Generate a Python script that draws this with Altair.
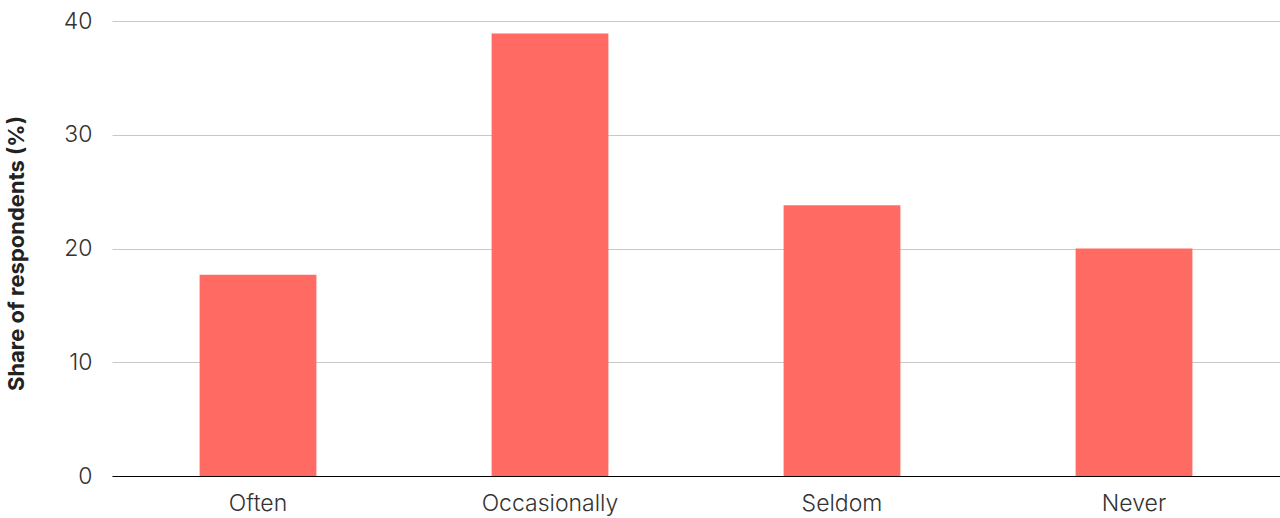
import altair as alt
import pandas as pd

# Survey answers and the share of respondents giving each one
categories = ["Often", "Occasionally", "Seldom", "Never"]
shares = [17.7, 38.9, 23.8, 20.0]
y_ticks = [0, 10, 20, 30, 40]

df = pd.DataFrame({"answer": categories, "share": shares})

FONT = "Inter"

bars = (
    alt.Chart(df)
    .mark_bar(color="#ff6b63")
    .encode(
        x=alt.X(
            "answer:N",
            sort=categories,
            title=None,
            scale=alt.Scale(paddingInner=0.6, paddingOuter=0.3),
            axis=alt.Axis(
                labelAngle=0,
                labelFont=FONT,
                labelFontSize=23,
                labelFontWeight=300,
                labelColor="#333333",
                labelPadding=16,
                ticks=False,
                domainColor="#000000",
                domainWidth=1,
                grid=False,
            ),
        ),
        y=alt.Y(
            "share:Q",
            title="Share of respondents (%)",
            scale=alt.Scale(domain=[0, 40], nice=False),
            axis=alt.Axis(
                values=y_ticks,
                labelFont=FONT,
                labelFontSize=23,
                labelFontWeight=300,
                labelColor="#333333",
                labelPadding=20,
                ticks=False,
                domain=False,
                gridColor="#c8c8c8",
                gridWidth=1,
                titleFont=FONT,
                titleFontSize=22,
                titleFontWeight="bold",
                titleColor="#222222",
                titleX=-84,
                titleY=232,
                titleAlign="center",
            ),
        ),
    )
    .properties(
        width=1168,
        height=455,
        padding={"left": 112, "top": 21, "right": 0, "bottom": 42},
        autosize=alt.AutoSizeParams(type="none"),
    )
    .configure_view(stroke=None)
)

bars.save("out.html", embed_options={"renderer": "svg", "actions": False})
